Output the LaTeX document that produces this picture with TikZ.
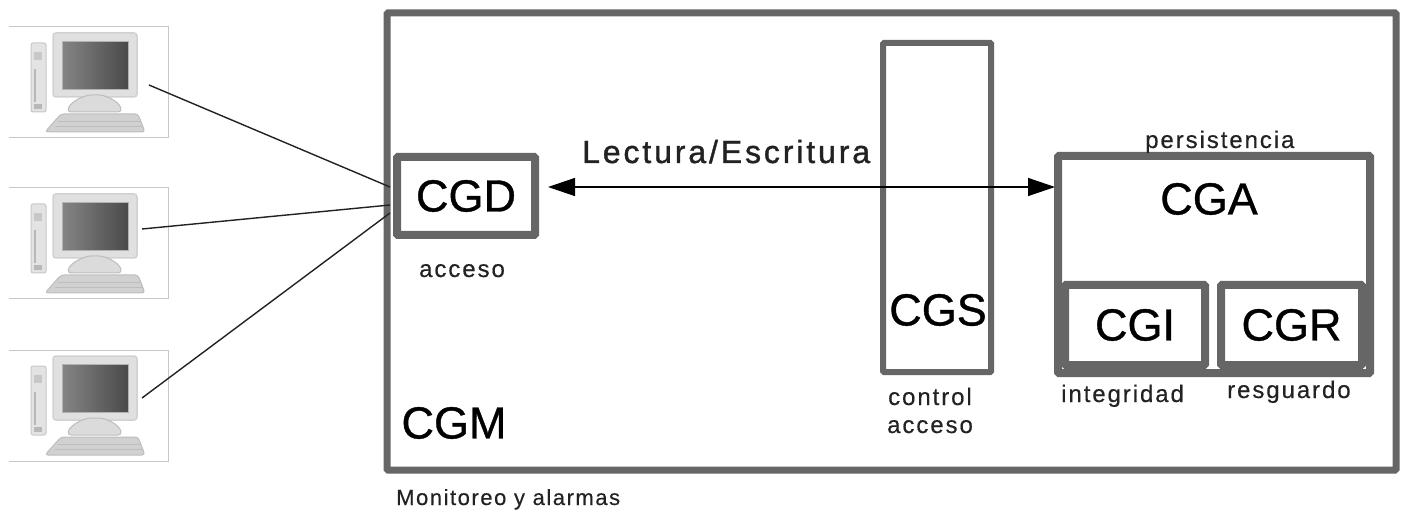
\documentclass[tikz,border=0pt]{standalone}
\usepackage{fontspec}
\setmainfont{Liberation Sans}
\newfontfamily\spaced[LetterSpace=8,FakeBold=0.4]{Liberation Sans}
\newfontfamily\spacedthin[LetterSpace=7,FakeBold=0.4]{Liberation Sans}
\newfontfamily\heavy[FakeBold=0.8]{Liberation Sans}
\newfontfamily\rwfont[FakeBold=1.2,LetterSpace=9]{Liberation Sans}
\usetikzlibrary{arrows.meta}
\definecolor{boxgray}{HTML}{666666}
\definecolor{inkc}{HTML}{222222}
\tikzset{
  x=1pt,y=-1pt,
  box/.style={draw=boxgray,fill=white,rectangle,rounded corners=1pt,inner sep=0pt,outer sep=0pt,line width=#1,font=\heavy\fontsize{45}{45}\selectfont,text=black},
  big/.style={inner sep=0pt,font=\heavy\fontsize{45}{45}\selectfont,text=black},
  small/.style={inner sep=0pt,anchor=base west,font=\spaced\fontsize{24}{24}\selectfont,text=inkc},
  link/.style={draw=inkc,line width=1.4pt},
  pics/computer/.style={code={
    \draw[draw=black!22,line width=1pt] (0,0) -- (159,0) -- (159,111) -- (0,111);
    \fill[black!11,rounded corners=2pt] (22,16) rectangle (37,85);
    \draw[black!22,line width=1pt,rounded corners=2pt] (22,16) rectangle (37,85);
    \fill[black!22] (25,25) rectangle (33,33);
    \draw[black!28,line width=1.2pt] (26,42) -- (26,75);
    \fill[black!28] (25,77) rectangle (33,82);
    \fill[black!12,rounded corners=3pt] (44,6) rectangle (128,70);
    \draw[black!18,line width=1.5pt,rounded corners=3pt] (44,6) rectangle (128,70);
    \foreach \s in {0,...,32} {
      \pgfmathsetmacro{\tone}{48+\s*0.7}
      \fill[black!\tone] ({53+2*\s},14) rectangle ({55.5+2*\s},62);
    }
    \draw[black!30,line width=.8pt] (53,14) rectangle (119,62);
    \fill[black!14,draw=black!26,line width=1pt,rounded corners=4pt] (58,85) .. controls (62,74) and (76,68) .. (86,68) .. controls (96,68) and (110,74) .. (113,85) -- cycle;
    \fill[black!18,draw=black!26,line width=1pt,rounded corners=3pt] (52,87) -- (129,87) -- (136,105) -- (36,105) -- cycle;
    \draw[black!26,line width=.7pt] (49,94) -- (132,94) (46,99) -- (134,99);
  }},
}
\begin{document}
\begin{tikzpicture}
\useasboundingbox (0,0) rectangle (1402,510);
\node[box=7pt,minimum width=1009pt,minimum height=457pt] (cgm) at (891.5,241.5) {};
\node[box=6pt,minimum width=108pt,minimum height=329pt] (cgs) at (937,207.5) {};
\node[box=8pt,minimum width=138pt,minimum height=78pt] (cgd) at (466,196) {CGD};
\node[box=8pt,minimum width=312pt,minimum height=217pt] (cga) at (1214,264.5) {};
\node[box=8pt,minimum width=140pt,minimum height=80pt] (cgi) at (1135,325) {CGI};
\node[box=8pt,minimum width=141pt,minimum height=80pt] (cgr) at (1291.5,325) {CGR};
\node[big] (cgatext) at (1209,199) {CGA};
\node[big] (cgstext) at (938,310) {CGS};
\node[big] (cgmtext) at (454,423) {CGM};
\pic at (9,27) {computer};
\pic at (9,188) {computer};
\pic at (9,350) {computer};
\coordinate (pc1) at (149,85);
\coordinate (pc2) at (142,229);
\coordinate (pc3) at (142,398);
\coordinate (in1) at (390,187);
\coordinate (in2) at (390,205);
\coordinate (in3) at (390,213);
\draw[link] (pc1) -- (in1);
\draw[link] (pc2) -- (in2);
\draw[link] (pc3) -- (in3);
\coordinate (arrowy) at (800,187);
\draw[black,line width=1.4pt,{Triangle[length=27pt,width=18pt]}-{Triangle[length=27pt,width=18pt]},shorten <=13pt,shorten >=3pt] (cgd.east |- arrowy) -- (cga.west |- arrowy);
\node[inner sep=0pt,anchor=base west,font=\rwfont\fontsize{32}{32}\selectfont,text=inkc] (rw) at (582,163) {Lectura/Escritura};
\node[small] (l1) at (419,277) {acceso};
\node[small] (l2) at (1145,148) {persistencia};
\node[small] (l3) at (1061,402) {integridad};
\node[small] (l4) at (1227,398) {resguardo};
\node[small] (l5) at (888,405) {control};
\node[small] (l6) at (887,433) {acceso};
\node[small,font=\spacedthin\fontsize{22}{22}\selectfont] (l7) at (396,505) {Monitoreo y alarmas};
\end{tikzpicture}
\end{document}
